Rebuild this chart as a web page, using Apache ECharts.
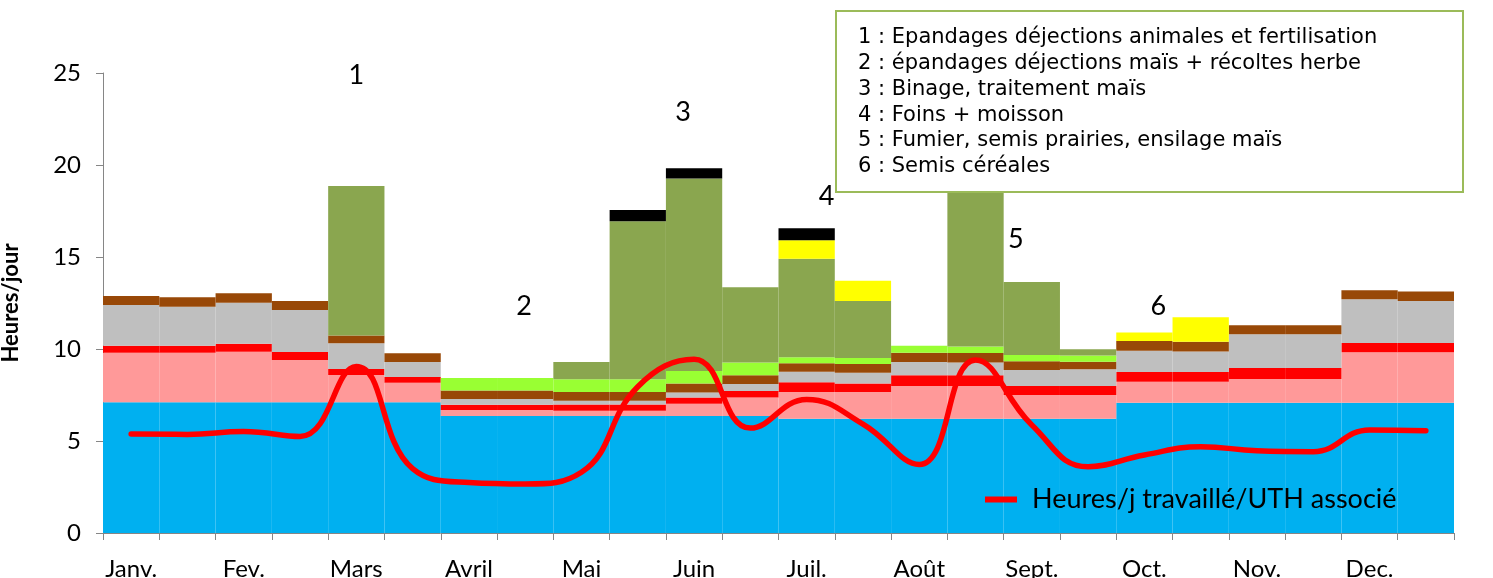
<!DOCTYPE html>
<html>
<head>
<meta charset="utf-8">
<script src="https://cdn.jsdelivr.net/npm/echarts@6/dist/echarts.min.js"></script>
<style>
  html, body { margin: 0; padding: 0; background: #fff; }
  #chart { width: 1493px; height: 578px; }
</style>
</head>
<body>
<div id="chart"></div>
<script>
// mois : deux barres par mois (1re et 2e quinzaine)
const mois = ['Janv.', 'Fev.', 'Mars', 'Avril', 'Mai', 'Juin', 'Juil.', 'Août', 'Sept.', 'Oct.', 'Nov.', 'Dec.']
const categories = []
mois.forEach((m) => { categories.push(m); categories.push(m + ' (2)') })

const yTicks = [0, 5, 10, 15, 20, 25]

// couches empilées, du bas vers le haut
const bleu      = [7.1, 7.1, 7.1, 7.1, 7.1, 7.1, 6.36, 6.36, 6.36, 6.36, 6.36, 6.36, 6.21, 6.21, 6.21, 6.21, 6.21, 6.21, 7.08, 7.08, 7.08, 7.08, 7.08, 7.08]
const rose      = [2.7, 2.7, 2.75, 2.3, 1.49, 1.07, 0.32, 0.32, 0.29, 0.29, 0.67, 1.01, 1.45, 1.45, 1.78, 1.78, 1.29, 1.29, 1.14, 1.14, 1.29, 1.29, 2.74, 2.74]
const rouge     = [0.38, 0.38, 0.44, 0.44, 0.32, 0.31, 0.29, 0.29, 0.34, 0.34, 0.34, 0.35, 0.53, 0.47, 0.58, 0.58, 0.49, 0.49, 0.53, 0.53, 0.6, 0.6, 0.51, 0.51]
const gris      = [2.21, 2.12, 2.23, 2.28, 1.4, 0.81, 0.31, 0.31, 0.2, 0.2, 0.27, 0.38, 0.58, 0.58, 0.72, 0.69, 0.87, 0.91, 1.16, 1.11, 1.83, 1.83, 2.37, 2.28]
const marron    = [0.49, 0.51, 0.51, 0.49, 0.43, 0.48, 0.47, 0.47, 0.47, 0.47, 0.48, 0.47, 0.45, 0.47, 0.51, 0.52, 0.47, 0.41, 0.52, 0.54, 0.49, 0.49, 0.49, 0.51]
const vertClair = [0, 0, 0, 0, 0, 0, 0.67, 0.67, 0.69, 0.69, 0.68, 0.69, 0.33, 0.33, 0.38, 0.36, 0.34, 0.33, 0, 0, 0, 0, 0, 0]
const vertOlive = [0, 0, 0, 0, 8.12, 0, 0, 0, 0.94, 8.59, 10.47, 4.09, 5.36, 3.1, 0, 10.86, 3.97, 0.34, 0, 0, 0, 0, 0, 0]
const jaune     = [0, 0, 0, 0, 0, 0, 0, 0, 0, 0, 0, 0, 1.0, 1.1, 0, 0, 0, 0, 0.46, 1.32, 0, 0, 0, 0]
const noir      = [0, 0, 0, 0, 0, 0, 0, 0, 0, 0.61, 0.55, 0, 0.65, 0, 0, 0, 0, 0, 0, 0, 0, 0, 0, 0]

// courbe heures/j travaillé/UTH associé
const heuresUTH = [5.38, 5.36, 5.52, 5.25, 9.05, 3.5, 2.74, 2.66, 3.3, 7.95, 9.44, 5.7, 7.26, 5.92, 3.72, 9.4, 5.87, 3.6, 4.24, 4.69, 4.47, 4.42, 5.6, 5.56]

const nomCourbe = 'Heures/j travaillé/UTH associé'

const lignesEncadre = [
  '1 : Epandages déjections animales et fertilisation',
  '2 : épandages déjections maïs + récoltes herbe',
  '3 : Binage, traitement maïs',
  '4 : Foins + moisson',
  '5 : Fumier, semis prairies, ensilage maïs',
  '6 : Semis céréales',
]

// repères numérotés au-dessus des barres
const reperes = [
  { texte: '1', cat: 4, val: 24.9, dx: 0 },
  { texte: '2', cat: 7, val: 12.3, dx: -1 },
  { texte: '3', cat: 10, val: 22.85, dx: -11 },
  { texte: '4', cat: 12, val: 18.3, dx: 20 },
  { texte: '5', cat: 16, val: 15.95, dx: -16 },
  { texte: '6', cat: 18, val: 12.3, dx: 14 },
]

const couches = [
  { nom: 'bleu', data: bleu, color: '#00B0F0' },
  { nom: 'rose', data: rose, color: '#FF9999' },
  { nom: 'rouge', data: rouge, color: '#FF0000' },
  { nom: 'gris', data: gris, color: '#BFBFBF' },
  { nom: 'marron', data: marron, color: '#984807' },
  { nom: 'vert clair', data: vertClair, color: '#99FF33' },
  { nom: 'vert olive', data: vertOlive, color: '#8AA64F' },
  { nom: 'jaune', data: jaune, color: '#FFFF00' },
  { nom: 'noir', data: noir, color: '#000000' },
]

const font = 'Lato, "Liberation Sans", sans-serif'

const myChart = echarts.init(document.getElementById('chart'), null, { renderer: 'canvas' })

const series = couches.map((c) => ({
  name: c.nom,
  type: 'bar',
  stack: 'total',
  barCategoryGap: 0,
  barGap: 0,
  data: c.data,
  itemStyle: { color: c.color },
  emphasis: { disabled: true },
  z: 2,
}))

series.push({
  name: nomCourbe,
  type: 'line',
  data: heuresUTH,
  smooth: 0.45,
  showSymbol: false,
  lineStyle: { color: '#FF0000', width: 5.5, cap: 'round' },
  itemStyle: { color: '#FF0000' },
  z: 5,
})

myChart.setOption({
  animation: false,
  backgroundColor: '#fff',
  grid: { left: 103, right: 39, top: 73, bottom: 45, outerBoundsMode: 'none' },
  legend: {
    data: [{ name: nomCourbe, icon: 'rect' }],
    left: 980,
    top: 481,
    itemWidth: 32,
    itemHeight: 6,
    itemGap: 10,
    textStyle: { fontFamily: font, fontSize: 27, color: '#000', padding: [0, 0, 0, 10] },
  },
  xAxis: {
    type: 'category',
    data: categories,
    axisLine: { lineStyle: { color: '#868686', width: 1 } },
    axisTick: { show: true, interval: 0, length: 7, lineStyle: { color: '#868686' } },
    axisLabel: {
      interval: 1,
      margin: 24,
      fontFamily: font,
      fontSize: 24,
      color: '#000',
    },
  },
  yAxis: {
    type: 'value',
    min: yTicks[0],
    max: yTicks[yTicks.length - 1],
    interval: 5,
    name: 'Heures/jour',
    nameLocation: 'middle',
    nameRotate: 90,
    nameGap: 81,
    nameTextStyle: { fontFamily: font, fontSize: 22, fontWeight: 'bold', color: '#000' },
    axisLine: { show: true, lineStyle: { color: '#868686', width: 1 } },
    axisTick: { show: true, length: 7, lineStyle: { color: '#868686' } },
    splitLine: { show: false },
    axisLabel: { margin: 22, fontFamily: font, fontSize: 24, color: '#000' },
  },
  series: series,
})

// encadré de légende des numéros + repères, placés après le rendu
const graphics = []
graphics.push({
  type: 'rect',
  z: 100,
  shape: { x: 836, y: 11, width: 627, height: 181 },
  style: { fill: '#fff', stroke: '#9BBB59', lineWidth: 2 },
})
lignesEncadre.forEach((t, i) => {
  graphics.push({
    type: 'text',
    z: 101,
    x: 858,
    y: 38 + i * 25.7,
    style: {
      text: t,
      fill: '#000',
      fontFamily: 'DejaVu Sans',
      fontSize: 21,
      verticalAlign: 'middle',
    },
  })
})
reperes.forEach((r) => {
  const p = myChart.convertToPixel({ gridIndex: 0 }, [r.cat, r.val])
  graphics.push({
    type: 'text',
    z: 50,
    x: p[0] + r.dx,
    y: p[1],
    style: {
      text: r.texte,
      fill: '#000',
      fontFamily: 'Lato',
      fontSize: 27,
      align: 'center',
      verticalAlign: 'middle',
    },
  })
})
myChart.setOption({ graphic: graphics })
</script>
</body>
</html>
